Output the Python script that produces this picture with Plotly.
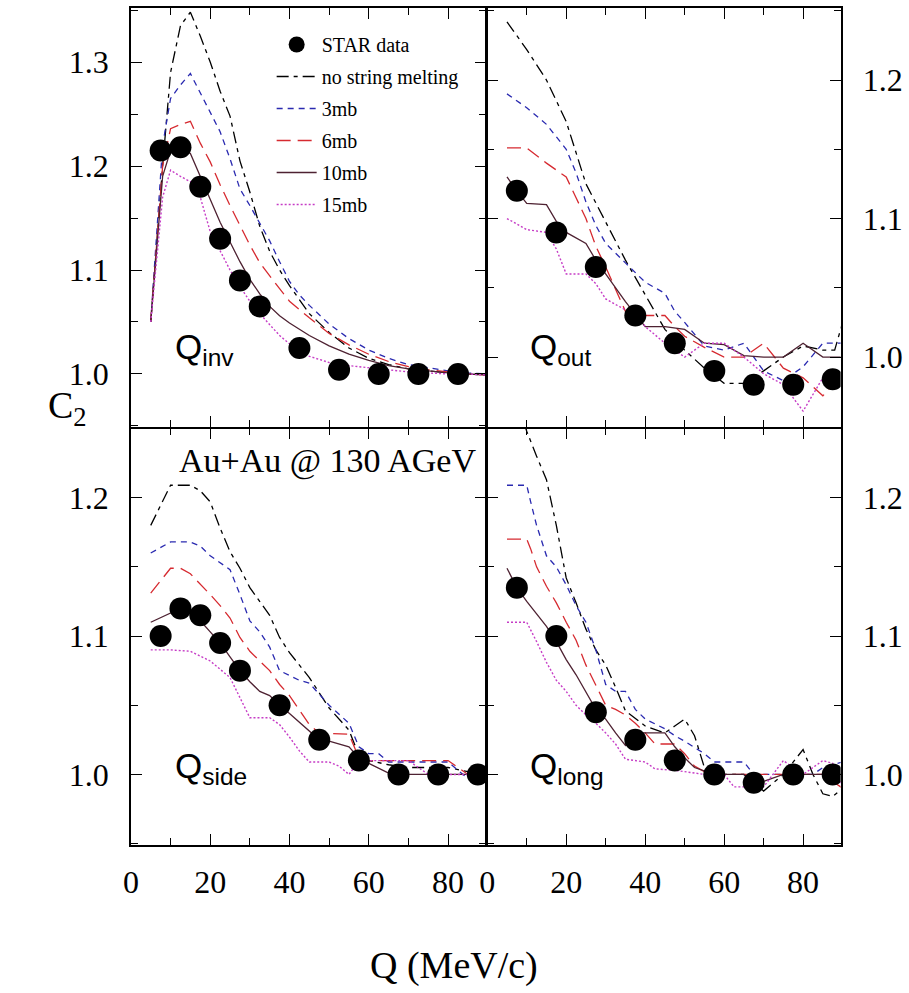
import plotly.graph_objects as go

# ---------------- data ----------------
series_names = ["no string melting", "3mb", "6mb", "10mb", "15mb"]

# Q_inv panel
qinv_model_q = [5, 8, 10, 12.5, 15, 17.5, 20, 22.5, 25, 27.5, 30, 32.5, 35, 37.5,
                40, 42.5, 45, 50, 55, 60, 65, 70, 75, 80, 85, 90]
qinv_nsm = [1.05, 1.20, 1.29, 1.335, 1.348, 1.325, 1.300, 1.272, 1.248, 1.205, 1.175,
            1.142, 1.118, 1.100, 1.085, 1.072, 1.058, 1.040, 1.025, 1.015, 1.009, 1.005,
            1.003, 1.001, 1.000, 0.999]
qinv_3mb = [1.05, 1.22, 1.265, 1.278, 1.289, 1.270, 1.252, 1.233, 1.207, 1.178, 1.162,
            1.145, 1.128, 1.108, 1.089, 1.076, 1.066, 1.048, 1.034, 1.023, 1.015, 1.009,
            1.006, 1.003, 1.001, 1.000]
qinv_6mb = [1.05, 1.20, 1.236, 1.240, 1.243, 1.222, 1.204, 1.182, 1.162, 1.143, 1.124,
            1.107, 1.094, 1.082, 1.070, 1.062, 1.054, 1.039, 1.028, 1.019, 1.012, 1.007,
            1.004, 1.002, 1.000, 0.999]
qinv_10mb = [1.05, 1.19, 1.215, 1.218, 1.212, 1.190, 1.168, 1.146, 1.127, 1.108, 1.091,
             1.077, 1.065, 1.056, 1.049, 1.043, 1.037, 1.027, 1.019, 1.013, 1.008, 1.005,
             1.003, 1.001, 1.000, 0.999]
qinv_15mb = [1.05, 1.17, 1.196, 1.190, 1.185, 1.170, 1.137, 1.118, 1.100, 1.084, 1.070,
             1.058, 1.047, 1.037, 1.029, 1.022, 1.017, 1.011, 1.008, 1.006, 1.004, 1.002,
             1.001, 1.000, 1.000, 0.999]
star_qinv_q = [7.5, 12.5, 17.5, 22.5, 27.5, 32.5, 42.5, 52.5, 62.5, 72.5, 82.5]
star_qinv_c = [1.215, 1.218, 1.180, 1.130, 1.090, 1.065, 1.025, 1.004, 1.000, 1.000, 1.000]

# Q_out panel
qout_nsm_q = [5, 10, 15, 20, 25, 30, 35, 40, 45, 50, 55, 60, 65, 70, 75, 80, 85, 88, 90]
qout_nsm = [1.242, 1.222, 1.200, 1.170, 1.125, 1.098, 1.070, 1.045, 1.020, 1.005, 0.992,
            0.981, 0.981, 0.990, 1.000, 1.008, 1.005, 1.005, 1.025]
qout_3mb_q = [5, 10, 15, 20, 22.5, 25, 27.5, 30, 35, 40, 45, 47.5, 50, 55, 60, 65, 70, 75,
              80, 85, 90]
qout_3mb = [1.190, 1.180, 1.168, 1.150, 1.133, 1.112, 1.095, 1.082, 1.068, 1.054, 1.046,
            1.033, 1.025, 1.008, 1.005, 1.010, 0.990, 0.983, 0.993, 1.010, 1.010]
qout_6mb_q = [5, 10, 15, 20, 22.5, 25, 27.5, 30, 35, 40, 45, 47.5, 50, 55, 60, 65, 70, 75,
              80, 85, 90]
qout_6mb = [1.151, 1.151, 1.140, 1.130, 1.115, 1.100, 1.080, 1.065, 1.033, 1.030, 1.030,
            1.022, 1.015, 1.007, 1.000, 1.000, 1.010, 0.992, 0.985, 0.972, 0.988]
qout_10mb_q = [5, 7.5, 10, 15, 17.5, 20, 25, 27.5, 35, 40, 45, 50, 55, 60, 65, 70, 75, 80,
               85, 90]
qout_10mb = [1.130, 1.120, 1.111, 1.110, 1.098, 1.090, 1.082, 1.070, 1.040, 1.022, 1.022,
             1.020, 1.010, 1.009, 1.001, 1.000, 1.000, 1.010, 1.000, 1.000]
qout_15mb_q = [5, 10, 15, 17.5, 20, 25, 27.5, 30, 35, 37.5, 40, 45, 50, 55, 60, 65, 70, 75,
               80, 85, 90]
qout_15mb = [1.100, 1.092, 1.090, 1.078, 1.060, 1.060, 1.053, 1.042, 1.034, 1.032, 1.022,
             1.010, 1.000, 1.010, 1.010, 1.000, 0.988, 0.980, 0.961, 0.985, 0.990]
star_qout_q = [7.5, 17.5, 27.5, 37.5, 47.5, 57.5, 67.5, 77.5, 87.5]
star_qout_c = [1.120, 1.090, 1.065, 1.030, 1.010, 0.990, 0.980, 0.980, 0.984]

# Q_side panel
qside_nsm_q = [5, 7.5, 10, 15, 17.5, 20, 22.5, 25, 27.5, 30, 35, 37.5, 40, 45, 50, 55,
               57.5, 60, 65, 70, 75, 80, 85, 90]
qside_nsm = [1.180, 1.195, 1.209, 1.209, 1.205, 1.197, 1.178, 1.161, 1.149, 1.135, 1.115,
             1.099, 1.088, 1.070, 1.048, 1.032, 1.014, 1.010, 1.007, 1.005, 1.005, 1.005,
             1.002, 0.998]
qside_3mb_q = [5, 10, 15, 17.5, 20, 25, 27.5, 30, 32.5, 35, 37.5, 42.5, 45, 50, 55, 57.5,
               60, 62.5, 65, 80, 85, 90]
qside_3mb = [1.160, 1.168, 1.168, 1.165, 1.158, 1.148, 1.130, 1.111, 1.103, 1.092, 1.075,
             1.068, 1.066, 1.050, 1.037, 1.020, 1.015, 1.015, 1.009, 1.009, 0.997, 1.000]
qside_6mb_q = [5, 10, 12.5, 15, 20, 22.5, 25, 27.5, 30, 35, 37.5, 40, 45, 47.5, 55, 57.5,
               60, 80, 85, 90]
qside_6mb = [1.131, 1.149, 1.149, 1.145, 1.130, 1.122, 1.113, 1.099, 1.089, 1.075, 1.065,
             1.057, 1.036, 1.030, 1.029, 1.012, 1.010, 1.010, 1.000, 1.000]
qside_10mb_q = [5, 10, 12.5, 15, 17.5, 20, 22.5, 25, 27.5, 30, 32.5, 35, 37.5, 40, 45,
                47.5, 50, 55, 57.5, 60, 65, 70, 90]
qside_10mb = [1.110, 1.117, 1.120, 1.117, 1.111, 1.103, 1.095, 1.085, 1.075, 1.067, 1.060,
              1.057, 1.050, 1.044, 1.031, 1.025, 1.024, 1.020, 1.012, 1.008, 1.001, 1.000,
              1.000]
qside_15mb_q = [5, 10, 15, 20, 25, 27.5, 30, 35, 37.5, 40, 42.5, 45, 50, 52.5, 55, 57.5,
                60, 70, 75, 90]
qside_15mb = [1.090, 1.090, 1.089, 1.082, 1.070, 1.056, 1.041, 1.041, 1.036, 1.027, 1.017,
              1.009, 1.009, 1.006, 1.000, 1.010, 1.010, 1.010, 1.000, 1.000]
star_qside_q = [7.5, 12.5, 17.5, 22.5, 27.5, 37.5, 47.5, 57.5, 67.5, 77.5, 87.5]
star_qside_c = [1.100, 1.120, 1.115, 1.095, 1.075, 1.050, 1.025, 1.010, 1.000, 1.000, 1.000]

# Q_long panel
qlong_nsm_q = [5, 10, 12.5, 15, 17.5, 20, 22.5, 25, 27.5, 30, 32.5, 35, 40, 45, 47.5, 50,
               52.5, 55, 60, 65, 70, 75, 80, 82.5, 85, 87.5, 90]
qlong_nsm = [1.290, 1.248, 1.230, 1.213, 1.180, 1.142, 1.124, 1.105, 1.090, 1.079, 1.063,
             1.046, 1.035, 1.030, 1.035, 1.040, 1.028, 1.005, 1.000, 1.000, 0.988, 1.000,
             1.018, 1.000, 0.986, 0.984, 0.990]
qlong_3mb_q = [5, 10, 11, 12.5, 15, 17.5, 20, 22.5, 25, 27.5, 30, 32.5, 35, 37.5, 40, 45,
               47.5, 50, 55, 57.5, 65, 67.5, 82.5, 85, 90]
qlong_3mb = [1.209, 1.209, 1.197, 1.180, 1.158, 1.150, 1.137, 1.122, 1.110, 1.090, 1.065,
             1.060, 1.060, 1.047, 1.040, 1.033, 1.028, 1.024, 1.015, 1.009, 1.009, 1.000,
             1.000, 1.005, 1.009]
qlong_6mb_q = [5, 10, 11, 12.5, 15, 17.5, 20, 22.5, 25, 27.5, 30, 32.5, 35, 37.5, 40,
               42.5, 47.5, 50, 52.5, 55, 57.5, 85, 90]
qlong_6mb = [1.170, 1.170, 1.163, 1.150, 1.136, 1.124, 1.110, 1.097, 1.079, 1.064, 1.050,
             1.047, 1.043, 1.037, 1.030, 1.022, 1.022, 1.015, 1.006, 1.002, 1.000, 1.000,
             0.990]
qlong_10mb_q = [5, 7.5, 10, 12.5, 15, 17.5, 20, 22.5, 25, 27.5, 30, 32.5, 35, 37.5, 45,
                47.5, 50, 52.5, 57.5, 65, 67.5, 70, 75, 90]
qlong_10mb = [1.149, 1.135, 1.125, 1.116, 1.107, 1.096, 1.083, 1.072, 1.060, 1.047, 1.040,
              1.030, 1.021, 1.030, 1.030, 1.020, 1.012, 1.005, 1.000, 1.000, 0.992, 0.995,
              1.000, 1.000]
qlong_15mb_q = [5, 10, 12.5, 15, 17.5, 20, 22.5, 25, 27.5, 30, 32.5, 35, 40, 42.5, 47.5,
                50, 55, 60, 62.5, 70, 75, 80, 85, 87.5, 90]
qlong_15mb = [1.110, 1.110, 1.096, 1.081, 1.068, 1.060, 1.050, 1.043, 1.037, 1.030, 1.022,
              1.011, 1.009, 1.004, 1.003, 1.002, 1.000, 1.000, 0.991, 0.991, 1.010, 1.000,
              1.010, 1.008, 0.990]
star_qlong_q = [7.5, 17.5, 27.5, 37.5, 47.5, 57.5, 67.5, 77.5, 87.5]
star_qlong_c = [1.135, 1.100, 1.045, 1.025, 1.010, 1.000, 0.994, 1.000, 1.000]

x_tickvals = [0, 20, 40, 60, 80]
x_ticktext = ["0", "20", "40", "60", "80"]

# ---------------- styles ----------------
line_colors = ["#000000", "#2a2ab0", "#d62a30", "#4e2232", "#c63cc6"]
line_dashes = ["12px,5px,4px,5px", "6px,5px", "14px,7px", "solid", "2px,2px"]
line_widths = [1.3, 1.3, 1.3, 1.3, 1.4]

W, H = 909, 993
def px_x(p):
    return p / W
def px_y(p):
    return 1 - p / H

LW = 1.5
dom_x_left = [px_x(124), px_x(482)]
dom_x_right = [px_x(482 + LW), px_x(840)]
dom_y_top = [px_y(427), px_y(8)]
dom_y_bot = [px_y(845), px_y(427 + LW)]

fig = go.Figure()

panels = [
    ("x", "y",
     [(qinv_model_q, qinv_nsm), (qinv_model_q, qinv_3mb), (qinv_model_q, qinv_6mb),
      (qinv_model_q, qinv_10mb), (qinv_model_q, qinv_15mb)],
     star_qinv_q, star_qinv_c),
    ("x2", "y2",
     [(qout_nsm_q, qout_nsm), (qout_3mb_q, qout_3mb), (qout_6mb_q, qout_6mb),
      (qout_10mb_q, qout_10mb), (qout_15mb_q, qout_15mb)],
     star_qout_q, star_qout_c),
    ("x3", "y3",
     [(qside_nsm_q, qside_nsm), (qside_3mb_q, qside_3mb), (qside_6mb_q, qside_6mb),
      (qside_10mb_q, qside_10mb), (qside_15mb_q, qside_15mb)],
     star_qside_q, star_qside_c),
    ("x4", "y4",
     [(qlong_nsm_q, qlong_nsm), (qlong_3mb_q, qlong_3mb), (qlong_6mb_q, qlong_6mb),
      (qlong_10mb_q, qlong_10mb), (qlong_15mb_q, qlong_15mb)],
     star_qlong_q, star_qlong_c),
]

line_traces = []
marker_traces = []
for pi, (xa, ya, series, sq, sc) in enumerate(panels):
    first = pi == 0
    marker_traces.append(go.Scatter(
        x=sq, y=sc, mode="markers", name="STAR data", xaxis=xa, yaxis=ya,
        marker=dict(color="black", size=22, symbol="circle"),
        showlegend=first, legendgroup="g0", legendrank=1))
    for si, (qx, cy) in enumerate(series):
        line_traces.append(go.Scatter(
            x=qx, y=cy, mode="lines", name=series_names[si], xaxis=xa, yaxis=ya,
            line=dict(color=line_colors[si], dash=line_dashes[si], width=line_widths[si]),
            showlegend=first, legendgroup="g%d" % (si + 1), legendrank=si + 2))

fig = go.Figure(data=line_traces + marker_traces)

tick_font = dict(family="Liberation Serif", size=32, color="black")
common_x = dict(range=[0, 89.5], showline=True, linecolor="black", linewidth=LW,
                mirror="allticks", ticks="inside", ticklen=11, tickwidth=1.3,
                tickcolor="black", tickvals=x_tickvals, ticktext=x_ticktext,
                minor=dict(ticks="inside", ticklen=7, tickwidth=1.2, tickcolor="black",
                           dtick=10, tick0=0, showgrid=False),
                showgrid=False, zeroline=False, tickfont=tick_font,
                ticklabelstandoff=8, fixedrange=True)
common_y = dict(showline=True, linecolor="black", linewidth=LW, mirror="allticks",
                ticks="inside", ticklen=11, tickwidth=1.3, tickcolor="black",
                dtick=0.1, tick0=1.0, tickformat=".1f",
                minor=dict(ticks="inside", ticklen=7, tickwidth=1.2, tickcolor="black",
                           dtick=0.05, tick0=1.0, showgrid=False),
                showgrid=False, zeroline=False, tickfont=tick_font,
                ticklabelstandoff=14, fixedrange=True)

fig.update_layout(
    width=W, height=H, margin=dict(l=0, r=0, t=0, b=0),
    paper_bgcolor="white", plot_bgcolor="white",
    xaxis=dict(common_x, domain=dom_x_left, anchor="y", showticklabels=False),
    yaxis=dict(common_y, domain=dom_y_top, anchor="x", range=[0.949, 1.352], side="left"),
    xaxis2=dict(common_x, domain=dom_x_right, anchor="y2", showticklabels=False),
    yaxis2=dict(common_y, domain=dom_y_top, anchor="x2", range=[0.9495, 1.252], side="right"),
    xaxis3=dict(common_x, domain=dom_x_left, anchor="y3"),
    yaxis3=dict(common_y, domain=dom_y_bot, anchor="x3", range=[0.949, 1.25], side="left"),
    xaxis4=dict(common_x, domain=dom_x_right, anchor="y4"),
    yaxis4=dict(common_y, domain=dom_y_bot, anchor="x4", range=[0.949, 1.25], side="right"),
    legend=dict(x=px_x(266), y=px_y(25), xanchor="left", yanchor="top",
                bgcolor="rgba(0,0,0,0)", borderwidth=0, tracegroupgap=3,
                font=dict(family="Liberation Serif", size=20, color="black"),
                itemwidth=40),
    showlegend=True,
)

ann_font = dict(family="Liberation Sans", size=35, color="black")
annotations = [
    dict(text="Q<sub>inv</sub>", x=px_x(166), y=px_y(373), xanchor="left", yanchor="bottom",
         font=ann_font),
    dict(text="Q<sub>out</sub>", x=px_x(525), y=px_y(373), xanchor="left", yanchor="bottom",
         font=ann_font),
    dict(text="Q<sub>side</sub>", x=px_x(166), y=px_y(792), xanchor="left", yanchor="bottom",
         font=ann_font),
    dict(text="Q<sub>long</sub>", x=px_x(525), y=px_y(792), xanchor="left", yanchor="bottom",
         font=ann_font),
    dict(text="Au+Au @ 130 AGeV", x=px_x(474), y=px_y(440), xanchor="right", yanchor="top",
         font=dict(family="Liberation Serif", size=34, color="black")),
    dict(text="C<sub>2</sub>", x=px_x(38), y=px_y(408), xanchor="left", yanchor="middle",
         font=dict(family="Liberation Serif", size=38, color="black")),
    dict(text="Q (MeV/c)", x=px_x(450), y=px_y(965), xanchor="center", yanchor="middle",
         font=dict(family="Liberation Serif", size=38, color="black")),
]
for a in annotations:
    a.update(xref="paper", yref="paper", showarrow=False)
fig.update_layout(annotations=annotations)

fig.write_html("out.html")
